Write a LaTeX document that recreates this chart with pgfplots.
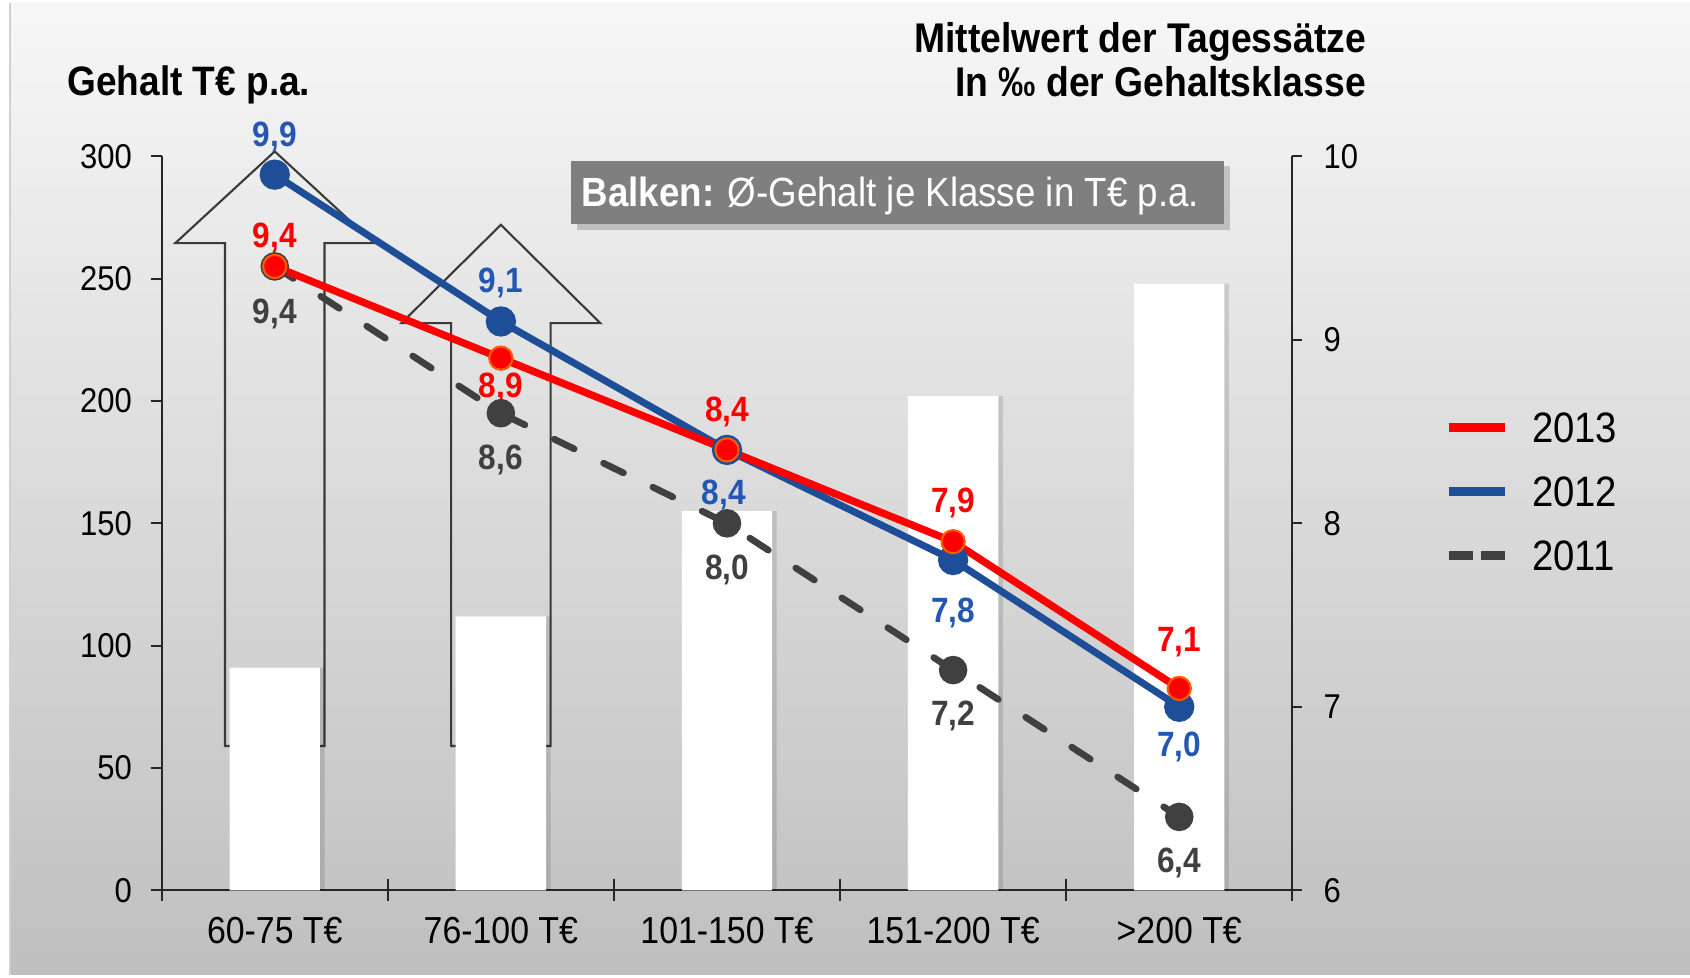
\documentclass[border=0pt]{standalone}
\usepackage{pgfplots}
\pgfplotsset{compat=1.18}
\usepackage{fontspec}
\setmainfont[FakeStretch=0.9]{Liberation Sans}

\definecolor{bgTop}{HTML}{F7F7F7}
\definecolor{bgMid}{HTML}{E4E4E4}
\definecolor{bgBot}{HTML}{BFBFBF}
\definecolor{c2013}{HTML}{FF0000}
\definecolor{c2013edge}{HTML}{FF5A00}
\definecolor{c2012}{HTML}{1F4E98}
\definecolor{c2012txt}{HTML}{2456B4}
\definecolor{c2011}{HTML}{404040}
\definecolor{arrowline}{HTML}{3A3A3A}
\definecolor{boxgrey}{HTML}{7F7F7F}

\pgfplotsset{
  base/.style={
    scale only axis, width=113.06mm, height=73.4mm,
    at={(16.17mm,8.77mm)}, anchor=south west,
    xmin=-0.5, xmax=4.5, clip=false,
    axis line style={black!85, line width=0.5pt},
    tick style={black!85, line width=0.5pt},
    tick label style={font=\fontsize{9.8}{11}\selectfont},
    /pgf/number format/assume math mode=true,
  },
}
\tikzset{lbl/.style={font=\bfseries\fontsize{10}{12}\selectfont,
  inner sep=0pt, text height=7.2pt, text depth=0pt, anchor=center}}

\begin{document}
\begin{tikzpicture}
\path[use as bounding box] (0,0) rectangle (169mm,97.8mm);
\fill[white] (0,0) rectangle (169mm,97.8mm);
\shade[top color=bgTop, middle color=bgMid, bottom color=bgBot]
  (1.0mm,0.3mm) rectangle (169mm,97.5mm);
\draw[black!18, line width=0.5pt] (1.0mm,0.3mm) -- (1.0mm,97.5mm);

% bars (left axis, salary) and the two outline arrows
\begin{axis}[base, ymin=0, ymax=300,
  axis y line*=left, axis x line*=bottom,
  ytick={0,50,...,300}, xtick=\empty,
  y tick label style={xshift=-0.65mm},
  tick align=outside, major tick length=1.1mm]
\addplot[draw=arrowline, line width=0.6pt, fill=none, mark=none, line join=miter]
  coordinates {(-0.22,59) (-0.22,264.5) (-0.44,264.5) (0,302) (0.44,264.5) (0.22,264.5) (0.22,59)} --cycle;
\addplot[draw=arrowline, line width=0.6pt, fill=none, mark=none, line join=miter]
  coordinates {(0.78,59) (0.78,231.8) (0.56,231.8) (1,272) (1.44,231.8) (1.22,231.8) (1.22,59)} --cycle;
% soft shadow, then the white bars
\addplot[ybar, bar width=0.4, bar shift=0.02, draw=none, fill=black, fill opacity=0.12]
  coordinates {(0,91) (1,112) (2,155) (3,202) (4,248)};
\addplot[ybar, bar width=0.4, bar shift=0, draw=none, fill=white]
  coordinates {(0,91) (1,112) (2,155) (3,202) (4,248)};
\end{axis}

% category labels and the ticks between the classes
\begin{axis}[base, ymin=0, ymax=300,
  axis y line=none, axis x line*=bottom, x axis line style={draw=none},
  xtick={0,...,4},
  xticklabels={60-75 T€,76-100 T€,101-150 T€,151-200 T€,>200 T€},
  x tick label style={font=\fontsize{10.7}{12}\selectfont, yshift=-1.5mm},
  major tick length=0pt,
  extra x ticks={-0.5,0.5,1.5,2.5,3.5,4.5}, extra x tick labels={},
  extra x tick style={major tick length=2.2mm, tick align=center}]
\end{axis}

% lines (right axis, per mille)
\begin{axis}[base, ymin=6, ymax=10,
  axis y line*=right, axis x line=none,
  ytick={6,...,10}, tick align=outside, major tick length=1mm,
  y tick label style={xshift=0.9mm},
  reverse legend,
  legend style={at={(1.134,0.657)}, anchor=north west, draw=none, fill=none,
    inner sep=0pt, font=\fontsize{12.1}{14}\selectfont, row sep=7.6pt,
    nodes={inner sep=1pt, text height=8.6pt, text depth=0pt},
    /tikz/every odd column/.append style={column sep=1.9mm}},
  legend cell align=left,
  legend image code/.code={\draw[#1, solid, line width=2.4pt, line cap=butt]
    (0mm,0mm) -- (5.67mm,0mm);}]
\addplot[c2011, line width=1.9pt, line cap=round, dash pattern=on 6.3pt off 9.3pt,
  mark=*, mark size=3.1pt, mark options={solid, fill=c2011, draw=c2011},
  legend image code/.code={\draw[c2011, line width=2.4pt, line cap=butt,
    dash pattern=on 6.8pt off 2.3pt] (0mm,0mm) -- (5.67mm,0mm);}]
  coordinates {(0,9.4) (1,8.6) (2,8.0) (3,7.2) (4,6.4)};
\addlegendentry{2011}
\addplot[c2012, line width=2pt, mark=*, mark size=3.3pt,
  mark options={fill=c2012, draw=c2012}]
  coordinates {(0,9.9) (1,9.1) (2,8.4) (3,7.8) (4,7.0)};
\addlegendentry{2012}
\addplot[c2013, line width=2.1pt, mark=*, mark size=3.3pt,
  mark options={fill=c2013, draw=c2013edge, line width=0.6pt}]
  coordinates {(0,9.4) (1,8.9) (2,8.4) (3,7.9) (4,7.1)};
\addlegendentry{2013}

\node[lbl, text=c2013] at (axis cs:0,9.571) {9,4};
\node[lbl, text=c2013] at (axis cs:1,8.755) {8,9};
\node[lbl, text=c2013] at (axis cs:2,8.626) {8,4};
\node[lbl, text=c2013] at (axis cs:3,8.126) {7,9};
\node[lbl, text=c2013] at (axis cs:4,7.369) {7,1};
\node[lbl, text=c2012txt] at (axis cs:0,10.123) {9,9};
\node[lbl, text=c2012txt] at (axis cs:1,9.325) {9,1};
\node[lbl, text=c2012txt] at (axis cs:1.986,8.173) {8,4};
\node[lbl, text=c2012txt] at (axis cs:3,7.527) {7,8};
\node[lbl, text=c2012txt] at (axis cs:4,6.799) {7,0};
\node[lbl, text=c2011] at (axis cs:0,9.160) {9,4};
\node[lbl, text=c2011] at (axis cs:1,8.361) {8,6};
\node[lbl, text=c2011] at (axis cs:2,7.762) {8,0};
\node[lbl, text=c2011] at (axis cs:3,6.969) {7,2};
\node[lbl, text=c2011] at (axis cs:4,6.164) {6,4};
\end{axis}

% titles
\node[anchor=base west, inner sep=0pt, font=\bfseries\fontsize{11.7}{14}\selectfont]
  at (6.68mm,88.21mm) {Gehalt T€ p.a.};
\node[anchor=base east, inner sep=0pt, font=\bfseries\fontsize{11.8}{14}\selectfont]
  at (136.66mm,92.5mm) {Mittelwert der Tagessätze};
\node[anchor=base east, inner sep=0pt, font=\bfseries\fontsize{11.8}{14}\selectfont]
  at (136.66mm,88.1mm) {In ‰ der Gehaltsklasse};

% note box
\fill[black, opacity=0.18] (57.7mm,74.8mm) rectangle (123.0mm,81.2mm);
\fill[boxgrey] (57.1mm,75.38mm) rectangle (122.4mm,81.74mm);
\node[anchor=base west, inner sep=0pt, text=white, font=\fontsize{11.6}{14}\selectfont]
  at (58.1mm,77.1mm) {\textbf{Balken:} Ø-Gehalt je Klasse in T€ p.a.};
\end{tikzpicture}
\end{document}
